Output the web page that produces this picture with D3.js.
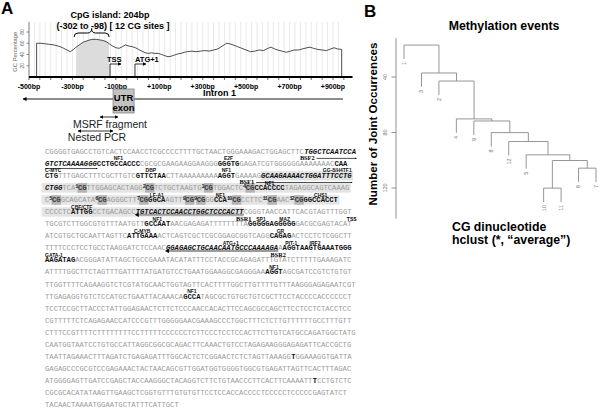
<!DOCTYPE html>
<html>
<head>
<meta charset="utf-8">
<script src="https://cdn.jsdelivr.net/npm/d3@7"></script>
<style>
  body { margin: 0; background: #fff; }
  svg { display: block; }
</style>
</head>
<body>
<svg id="fig" width="600" height="409"></svg>
<script>
// ---- panel A : GC content track (bp relative to TSS, % GC) ----
const gcPos = [-465,-445,-425,-405,-385,-365,-345,-325,-310,-295,-280,-265,-250,-235,-220,-205,-190,-175,-160,-145,
  -130,-115,-100,-85,-70,-55,-40,-25,-10,5,20,35,50,65,80,95,110,125,140,155,170,185,200,215,230,250,270,290,310,330,
  350,370,390,410,425,440,460,480,500,520,540,560,580,600,615,630,645,665,685,705,720,740,760,780,795,810,830,850,870,890,905,920,940];
const gcVal = [60,60,59,58,57,55,52,48,45,49,54,58,62,64,66,67,67,66,65,63,
  59,55,52,51,54,57,55,54,52,49,46,43,42,43,42,42,40,38,36,37,39,41,42,44,45,46,45,46,47,46,
  48,50,55,60,59,57,54,51,48,45,46,48,47,51,53,50,48,46,44,46,48,48,50,52,53,51,49,48,47,50,52,50,49];
const cpgIsland = [-283, -131];
const gcTicks = [20, 40, 60, 80];
const bpTicks = [-500, -300, -100, 100, 300, 500, 700, 900];
const bpTickLabels = ["-500bp", "-300bp", "-100bp", "+100bp", "+300bp", "+500bp", "+700bp", "+900bp"];
const tssPos = -127, atgPos = -12;
const utrExon = [-113, -16];
const intronSpan = [-528, 946];
const msrfSpan = [-173, -90];
const nestedSpan = [-274, -113];

// ---- panel A : promoter sequence ----
// {..} bold motif, [..] bold italic primer, <n> CG site number n
const seqRows = [
  "CGGGGTGAGCCTGTCACTCCAACCTCGCCCCTTTTGCTAACTGGGAAAGACTGGAGCTTC[TGGCTCAATCCA]",
  "[GTCTCAAAAGGG]{CCTGCCACCC}CGCGCGAAGAAGGAAGGG{GGGTG}GAGATCGTGGGGGGAAAAAAAC{CAA}",
  "{CTG}TTTGAGCTTTCGCTTGTC{GTTCTAA}CTTAAAAAAAAA{AGGT}GAAAAG[GCAAGAAAACTGGATTTCCTG]",
  "[CTGG]TCA<1>TTGGAGCACTAGG<2>TCTGCTAAGTG<3>TGGACTC<4>{CCACCCC}TAGAGGCAGTCAAAG",
  "C<5>GCAGCATA<6>AGGGCTT<7>{GGCA}AGTT<8><9>GG{CCA}<10>CCTTC<11>AAC<12>{GGCCACCT}",
  "CCCCTC{ATTGG}CCTGACAGCC[TGTCACTCCAACCTGGCTCCCACTT]CGGGTAACCATTCACGTAGTTTGGT",
  "TGCGTCTTGGCGTGTTTAATGTT{GCCAAT}AACGAGAGATTTTTTTTA{GGGGGA}{GGGGG}GACGCGAGTACAT",
  "ATCGTGCTGCAATTAGTTC{ATTGAAA}ACTCAGTCGCTCGCGGAGCGGTCAGG{CAGAG}ACTCCTCTCGGCTT",
  "TTTTCCCTCCTGCCTAAGGATCTCCAAC[GGAGAGCTGCAACAATGCCCAAAAGA]A{AGGT}{AAGTGAA}{ATGGG}",
  "{AAGATAG}ACGGGATATTAGCTGCCGAAATACATATTTCCTACCGCAGAGATTTGTATCTTTTTGAAAGATC",
  "ATTTTGGCTTCTAGTTTGATTTTATGATGTCCTGAATGGAAGGCGAGGGAA{AGGT}AGCGATCCGTCTGTGT",
  "TTGGTTTTCAGAAGGTCTCGTATGCAACTGGTAGTTCACTTTTGGCTTGTTTTGTTTAAGGGAGAGAATCGT",
  "TTGAGAGGTGTCTCCATGCTGAATTACAAACA{GCCA}TAGCGCTGTGCTGTCGCTTCCTACCCCACCCCCCT",
  "TCCTCCGCTTACCCTATTGGAGAACTCTTCTCCCAACCACACTTCCAGCGCCAGCTTCCTCCTCTACCTCC",
  "CGTTTTTCTCAGAGAACCATCCCGTTTGGGGGAACGAAAGCCCTGGCTTTCTCTTGTTTTTTGCCTTTGTT",
  "CTTTCCGTTTTCTTTTTTTTCCTTTTTCCCCCCTCTTCCCTCCTCCACTTCTTGTCATGCCAGATGGCTATG",
  "CAATGGTAATCCTGTGCCATTAGGCGGCGCAGACTTCAAACTGTCCTAGAGAAGGGAGAGATTCACCGCTG",
  "TAATTAGAAACTTTAGATCTGAGAGATTTGGCACTCTCGGAACTCTCTAGTTAAAGG{T}GGAAAGGTGATTA",
  "GAGAGCCCGCGTCCGAGAAACTACTAACAGCGTTGGATGGTGGGGTGGCGTGAGATTAGTTCACTTTAGAC",
  "ATGGGGAGTTGATCCGAGCTACCAAGGGCTACAGGTCTTCTGTAACCCTTCACTTCAAAATT{T}CCTGTCTC",
  "CGCGCACATATAAGTTGAAGCTCGGTGTTTGTGTGTTCCTCCACCACCCCTCCCCCTCCCCCGAGTATCT",
  "TACAACTAAAATGGAATGCTATTTCATTGCT"
];
// [row, motif index in row, label, align: "m" middle, "s" start, "e" end, or char offset]
const siteLabels = [
  [1, 1, "NF1", "m"], [1, 2, "E2F", "m"],
  [2, 0, "C-MYC", "s"], [2, 1, "DBP", "m"], [2, 2, "NF1", "m"], [2, 3, "GG-8/H4TF1", "e"],
  [3, 1, "NF1", "m"],
  [4, 0, "LF-A1", "m"], [4, 1, "NF1", "m"], [4, 2, "CHS1", "m"],
  [5, 0, "CBF/CTF", "m"],
  [6, 0, "NF1", "m"], [6, 1, "SP1", "m"], [6, 2, "MAZ", "m"],
  [7, 0, "C-MYB", "m"], [7, 1, "GR", "m"],
  [8, 0, "ATG+1", 15], [8, 1, "PIT-1", "m"], [8, 2, "IRF2", "m"],
  [9, 0, "GATA-1", "s"],
  [10, 0, "NF1", "m"], [12, 0, "NF1", "m"]
];
// lead: how many characters before the primer start its label begins
const primers = [
  { name: "BSF2", row: 0, mark: 0, dir: 1, lead: 1, cont: [1, 0] },
  { name: "BSF1", row: 2, mark: 3, dir: 1, lead: 5 },
  { name: "BSR1", row: 5, mark: 1, dir: -1 },
  { name: "BSR2", row: 8, mark: 0, dir: -1 }
];
// CpG island shading in the sequence: [row, from motif (or null = row start), to motif (or null = row end)]
const islandRows = [[2, 3, null], [3, null, null], [4, null, null], [5, null, 1]];

// ---- panel B : hclust dendrogram of CG sites ----
const leafOrder = [1, 3, 2, 4, 9, 8, 12, 5, 10, 11, 6, 7];
// R hclust merge matrix: negative = CG site, positive = earlier merge
const mergeA = [-10, -6, 1, -5, -12, -8, -9, -4, -2, -3, -1];
const mergeB = [-11, -7, 2, 3, 4, 5, 6, 7, 8, 9, 10];
const mergeH = [120.1, 105.7, 100.2, 96.1, 86.5, 80.1, 71.7, 70.2, 42.9, 37.1, 17.0];
const hang = 10;
const occTicks = [40, 80, 120];

const svg = d3.select("#fig");
const defs = svg.append("defs");
defs.append("marker").attr("id", "ah").attr("viewBox", "0 0 10 10")
  .attr("refX", 9).attr("refY", 5).attr("markerWidth", 4.5).attr("markerHeight", 4.5)
  .attr("orient", "auto-start-reverse")
  .append("path").attr("d", "M0,0L10,5L0,10z").attr("fill", "#000");
defs.append("marker").attr("id", "ahs").attr("viewBox", "0 0 10 10")
  .attr("refX", 5).attr("refY", 5).attr("markerWidth", 2.6).attr("markerHeight", 2.6)
  .attr("orient", "auto-start-reverse")
  .append("path").attr("d", "M0,0L10,5L0,10z").attr("fill", "#000");

const sans = "'Liberation Sans', Arial, sans-serif";

// panel letters
svg.append("text").attr("x", 1).attr("y", 14).text("A")
  .style("font", `bold 17px ${sans}`);
svg.append("text").attr("x", 364).attr("y", 17).text("B")
  .style("font", `bold 17px ${sans}`);

// ================= Panel A top =================
const x = d3.scaleLinear().domain([-500, 900]).range([29, 333]);
const y = d3.scaleLinear().domain([0, 80]).range([77, 32]);
const gA = svg.append("g");

gA.selectAll("line.grid").data(d3.range(-475, 950, 25)).join("line")
  .attr("x1", d => x(d)).attr("x2", d => x(d))
  .attr("y1", y(0)).attr("y2", y(98))
  .attr("stroke", "#e3e3e3").attr("stroke-width", 0.8);

const gc = gcPos.map((p, i) => ({ p, v: gcVal[i] }));
const closed = [{ p: gcPos[0], v: 0 }, ...gc, { p: gcPos[gcPos.length - 1], v: 0 }];

defs.append("clipPath").attr("id", "isl").append("rect")
  .attr("x", x(cpgIsland[0])).attr("width", x(cpgIsland[1]) - x(cpgIsland[0]))
  .attr("y", 0).attr("height", 100);
gA.append("path").datum(gc)
  .attr("clip-path", "url(#isl)")
  .attr("d", d3.area().x(d => x(d.p)).y0(y(0)).y1(d => y(d.v)))
  .attr("fill", "#dcdcdc");
gA.append("path").datum(closed)
  .attr("d", d3.line().x(d => x(d.p)).y(d => y(d.v)))
  .attr("fill", "none").attr("stroke", "#222").attr("stroke-width", 0.8);

// y axis of GC track
gA.append("line").attr("x1", 29).attr("x2", 29).attr("y1", y(0)).attr("y2", y(98))
  .attr("stroke", "#444").attr("stroke-width", 0.7);
gA.selectAll("line.yt").data(gcTicks).join("line")
  .attr("x1", 26.5).attr("x2", 29).attr("y1", d => y(d)).attr("y2", d => y(d))
  .attr("stroke", "#444").attr("stroke-width", 0.6);
gA.selectAll("text.yt").data(gcTicks).join("text")
  .attr("transform", d => `translate(24,${y(d)}) rotate(-90)`)
  .attr("text-anchor", "middle").text(d => d)
  .style("font", `5px ${sans}`).attr("fill", "#666");
gA.append("text").attr("transform", `translate(17,${y(45)}) rotate(-90)`)
  .attr("text-anchor", "middle").text("GC Percentage")
  .style("font", `5.8px ${sans}`).attr("fill", "#666");

// bp axis
gA.append("line").attr("x1", x(-500)).attr("x2", x(990)).attr("y1", y(0)).attr("y2", y(0))
  .attr("stroke", "#000").attr("stroke-width", 2);
gA.selectAll("line.xt").data(d3.range(-500, 1000, 50)).join("line")
  .attr("x1", d => x(d)).attr("x2", d => x(d)).attr("y1", y(0)).attr("y2", y(0) + 3)
  .attr("stroke", "#000").attr("stroke-width", 0.6);
gA.selectAll("text.xt").data(bpTicks).join("text")
  .attr("x", d => x(d)).attr("y", 89).attr("text-anchor", "middle")
  .text((d, i) => bpTickLabels[i])
  .style("font", `bold 7px ${sans}`);

// CpG brace and captions
const bx0 = x(cpgIsland[0]) - 2, bx1 = x(cpgIsland[1]), bxm = (bx0 + bx1) / 2;
gA.append("path")
  .attr("d", `M${bx0},37 Q${bx0},33 ${bx0 + 4},33 L${bxm - 4},33 Q${bxm},33 ${bxm},28.5 Q${bxm},33 ${bxm + 4},33 L${bx1 - 4},33 Q${bx1},33 ${bx1},37`)
  .attr("fill", "none").attr("stroke", "#000").attr("stroke-width", 1);
gA.append("text").attr("x", 110).attr("y", 17.5).attr("text-anchor", "middle")
  .text("CpG island: 204bp").style("font", `bold 9px ${sans}`);
gA.append("text").attr("x", 113).attr("y", 28.5).attr("text-anchor", "middle")
  .text("(-302 to -98) [ 12 CG sites ]").style("font", `bold 9px ${sans}`);

// TSS / ATG+1 bent arrows
[[tssPos, "TSS", -3], [atgPos, "ATG+1", 0]].forEach(([p, lab, dx]) => {
  gA.append("path").attr("d", `M${x(p)},${y(0)} V64 H${x(p) + 11}`)
    .attr("fill", "none").attr("stroke", "#000").attr("stroke-width", 0.8)
    .attr("marker-end", "url(#ah)");
  gA.append("text").attr("x", x(p) + dx).attr("y", 61.5).text(lab)
    .style("font", `bold 7.5px ${sans}`);
});

// gene structure
gA.append("line").attr("x1", x(intronSpan[1])).attr("x2", x(intronSpan[0]))
  .attr("y1", 99).attr("y2", 99).attr("stroke", "#000").attr("stroke-width", 0.9)
  .attr("marker-end", "url(#ah)");
gA.append("text").attr("x", 203).attr("y", 96).text("Intron 1")
  .style("font", `bold 9px ${sans}`);
gA.append("rect").attr("x", x(utrExon[0])).attr("width", x(utrExon[1]) - x(utrExon[0]))
  .attr("y", 89).attr("height", 24).attr("fill", "#c2c2c2").attr("stroke", "#777").attr("stroke-width", 0.7);
const um = (x(utrExon[0]) + x(utrExon[1])) / 2;
gA.append("text").attr("x", um).attr("y", 100.5).attr("text-anchor", "middle").text("UTR")
  .style("font", `bold 9.5px ${sans}`);
gA.append("text").attr("x", um).attr("y", 111).attr("text-anchor", "middle").text("exon")
  .style("font", `bold 9.5px ${sans}`);

[[msrfSpan, 117], [nestedSpan, 131]].forEach(([s, yy]) => {
  gA.append("line").attr("x1", x(s[0])).attr("x2", x(s[1])).attr("y1", yy).attr("y2", yy)
    .attr("stroke", "#000").attr("stroke-width", 0.8)
    .attr("marker-start", "url(#ah)").attr("marker-end", "url(#ah)");
});
gA.append("text").attr("x", 110).attr("y", 128).attr("text-anchor", "middle").text("MSRF fragment")
  .style("font", `10.5px ${sans}`).attr("fill", "#222");
gA.append("text").attr("x", 97).attr("y", 140.5).attr("text-anchor", "middle").text("Nested PCR")
  .style("font", `10.5px ${sans}`).attr("fill", "#222");

// ================= Panel A sequence =================
const fs = 7.2, cw = fs * 0.6, supW = 0.62;
const colX = d3.scaleLinear().domain([0, 1]).range([45, 45 + cw]);
const rowY = d3.scaleLinear().domain([0, seqRows.length - 1]).range([154, 407]);
const mono = "'Liberation Mono', 'DejaVu Sans Mono', monospace";

function parseRow(s) {
  const toks = [];
  let i = 0;
  while (i < s.length) {
    const c = s[i];
    if (c === "{" || c === "[") {
      const j = s.indexOf(c === "{" ? "}" : "]", i);
      toks.push({ t: s.slice(i + 1, j), st: c === "{" ? "b" : "bi", mark: true });
      i = j + 1;
    } else if (c === "<") {
      const j = s.indexOf(">", i);
      toks.push({ t: s.slice(i + 1, j), st: "sup" });
      toks.push({ t: "CG", st: "cg" });
      i = j + 1;
    } else {
      let j = i;
      while (j < s.length && !"{[<".includes(s[j])) j++;
      toks.push({ t: s.slice(i, j), st: "n" });
      i = j;
    }
  }
  let col = 0, m = 0;
  toks.forEach(tk => {
    tk.c0 = col;
    col += tk.t.length * (tk.st === "sup" ? supW : 1);
    tk.c1 = col;
    if (tk.mark) tk.mi = m++;
  });
  return { toks, len: col, marks: toks.filter(t => t.mark) };
}
const rows = seqRows.map(parseRow);

const gS = svg.append("g");
// CpG island highlight
islandRows.forEach(([r, fm, tm]) => {
  const R = rows[r];
  const c0 = fm === null ? -0.8 : R.marks[fm].c0;
  const c1 = tm === null ? R.len + 0.3 : R.marks[tm].c1;
  gS.append("rect").attr("x", colX(c0)).attr("width", colX(c1) - colX(c0))
    .attr("y", rowY(r) - 7).attr("height", 9.5).attr("fill", "#e4e4e4");
});
// CG site boxes
rows.forEach((R, r) => R.toks.filter(t => t.st === "cg").forEach(t => {
  gS.append("rect").attr("x", colX(t.c0) - 0.4).attr("width", colX(t.c1) - colX(t.c0) + 0.8)
    .attr("y", rowY(r) - 7).attr("height", 9.5).attr("fill", "#b3b3b3");
}));
// reverse primers (grey bar under sequence)
primers.filter(p => p.dir < 0).forEach(p => {
  const t = rows[p.row].marks[p.mark];
  gS.append("line").attr("x1", colX(t.c1)).attr("x2", colX(t.c0) + 1.5)
    .attr("y1", rowY(p.row) + 0.5).attr("y2", rowY(p.row) + 0.5)
    .attr("stroke", "#9c9c9c").attr("stroke-width", 2.2);
  gS.append("path")
    .attr("d", `M${colX(t.c0) - 1},${rowY(p.row) + 0.5} l4,-2.2 v4.4 z`).attr("fill", "#000");
});
// letters
rows.forEach((R, r) => {
  gS.selectAll(null).data(R.toks).join("text")
    .attr("x", d => colX(d.c0))
    .attr("y", d => rowY(r) - (d.st === "sup" ? 2.4 : 0))
    .text(d => d.t)
    .style("font-family", mono)
    .style("font-size", d => (d.st === "sup" ? fs * 0.75 : fs) + "px")
    .style("font-weight", d => (d.st === "n" ? "normal" : "bold"))
    .style("font-style", d => (d.st === "bi" ? "italic" : "normal"))
    .attr("textLength", d => (d.st === "sup" ? (d.c1 - d.c0) * cw : null))
    .attr("fill", d => (d.st === "n" ? "#9a9a9a" : d.st === "cg" ? "#3a3a3a" : d.st === "sup" ? "#222" : "#111"));
});
// transcription factor labels
siteLabels.forEach(([r, mi, lab, al]) => {
  const t = rows[r].marks[mi];
  let xx, anchor = "middle";
  if (al === "s") { xx = colX(t.c0); anchor = "start"; }
  else if (al === "e") { xx = colX(t.c1); anchor = "end"; }
  else if (typeof al === "number") xx = colX(t.c0 + al);
  else xx = colX((t.c0 + t.c1) / 2);
  gS.append("text").attr("x", xx).attr("y", rowY(r) - 5.6).attr("text-anchor", anchor)
    .text(lab).style("font", `bold 5px ${sans}`).attr("fill", "#111");
});
// TSS mark at end of row 6
{
  const R = rows[6];
  const xe = colX(R.len);
  gS.append("text").attr("x", xe).attr("y", rowY(6) - 5.2).attr("text-anchor", "middle")
    .text("TSS").style("font", `bold 5px ${sans}`);
}
// primers
const serif = "'Liberation Serif', 'Times New Roman', serif";
primers.forEach(p => {
  const t = rows[p.row].marks[p.mark];
  if (p.dir > 0) {
    const lx0 = colX(t.c0 - p.lead);
    const lbl = gS.append("text").attr("x", lx0).attr("y", rowY(p.row) + 6.2)
      .text(p.name).style("font", `bold 6.3px ${serif}`);
    const lw = lbl.node().getComputedTextLength();
    gS.append("line").attr("x1", lx0 + lw + 2).attr("x2", colX(t.c1))
      .attr("y1", rowY(p.row) + 4.4).attr("y2", rowY(p.row) + 4.4)
      .attr("stroke", "#000").attr("stroke-width", 0.7).attr("marker-end", "url(#ahs)");
    if (p.cont) {
      const c = rows[p.cont[0]].marks[p.cont[1]];
      gS.append("line").attr("x1", colX(c.c0)).attr("x2", colX(c.c1))
        .attr("y1", rowY(p.cont[0]) + 2.5).attr("y2", rowY(p.cont[0]) + 2.5)
        .attr("stroke", "#000").attr("stroke-width", 0.7).attr("marker-end", "url(#ahs)");
    }
  } else {
    gS.append("text").attr("x", colX(t.c1)).attr("y", rowY(p.row) + 6.5).attr("text-anchor", "middle")
      .text(p.name).style("font", `bold 6.3px ${serif}`);
  }
});

// ================= Panel B =================
const gB = svg.append("g");
const dy = d3.scaleLinear().domain([40, 120]).range([77, 188]);
const lx = d3.scalePoint().domain(leafOrder).range([404, 596]);
const axX = 396;

gB.append("line").attr("x1", axX).attr("x2", axX).attr("y1", dy(12)).attr("y2", dy(142))
  .attr("stroke", "#777").attr("stroke-width", 0.8);
gB.selectAll("line.t").data(occTicks).join("line")
  .attr("x1", axX - 4.5).attr("x2", axX).attr("y1", d => dy(d)).attr("y2", d => dy(d))
  .attr("stroke", "#777").attr("stroke-width", 0.8);
gB.selectAll("text.t").data(occTicks).join("text")
  .attr("transform", d => `translate(387,${dy(d)}) rotate(-90)`)
  .attr("text-anchor", "middle").text(d => d)
  .style("font", `5.5px ${sans}`).attr("fill", "#777");

const leafBottom = {};
const nodes = [];
mergeA.forEach((a, i) => {
  [a, mergeB[i]].forEach(c => { if (c < 0) leafBottom[-c] = mergeH[i] + hang; });
});
function childPos(c) {
  return c < 0 ? { x: lx(-c), y: dy(leafBottom[-c]) } : nodes[c - 1];
}
mergeA.forEach((a, i) => {
  const A = childPos(a), B = childPos(mergeB[i]);
  const yy = dy(mergeH[i]);
  nodes.push({ x: (A.x + B.x) / 2, y: yy });
  gB.append("path").attr("d", `M${A.x},${A.y} V${yy} H${B.x} V${B.y}`)
    .attr("fill", "none").attr("stroke", "#8a8a8a").attr("stroke-width", 0.9);
});
gB.selectAll("text.leaf").data(leafOrder).join("text")
  .attr("transform", d => `translate(${lx(d)},${dy(leafBottom[d]) + 3}) rotate(-90)`)
  .attr("text-anchor", "end").attr("dy", "0.35em").text(d => d)
  .style("font", `5.5px ${sans}`).attr("fill", "#777");

gB.append("text").attr("x", 504).attr("y", 30).attr("text-anchor", "middle")
  .text("Methylation events").style("font", `bold 12.3px ${sans}`);
gB.append("text").attr("transform", "translate(377,124) rotate(-90)").attr("text-anchor", "middle")
  .text("Number of Joint Occurrences").style("font", `bold 11.6px ${sans}`);
gB.append("text").attr("x", 452).attr("y", 231).text("CG dinucleotide")
  .style("font", `bold 12.3px ${sans}`);
gB.append("text").attr("x", 452).attr("y", 244).text("hclust (*, \u201caverage\u201d)")
  .style("font", `bold 12.3px ${sans}`);
</script>
</body>
</html>
